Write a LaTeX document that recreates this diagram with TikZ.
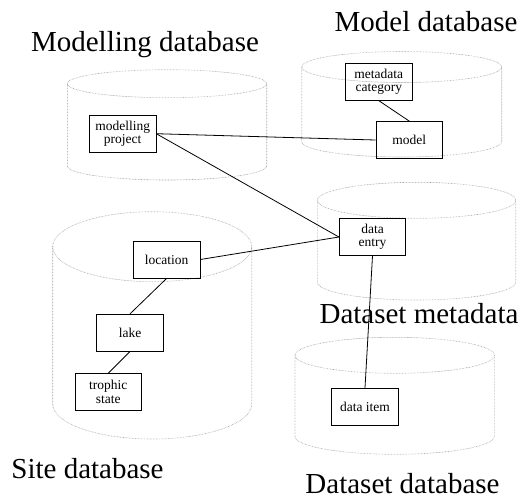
\documentclass[tikz,border=0pt]{standalone}
\usepackage{fontspec}
\setmainfont{Liberation Serif}
\tikzset{
  cyl/.style={gray!75, line width=0.6pt, dash pattern=on 0.6pt off 0.9pt},
  ent/.style={draw, line width=0.7pt, minimum width=66.5pt, minimum height=37pt, inner sep=1pt, align=center, font=\fontsize{13.5}{13.5}\selectfont},
  lnk/.style={line width=0.8pt},
  dbtitle/.style={anchor=base, inner sep=0pt, font=\fontsize{29}{30}\selectfont}
}
\newcommand\dbcyl[5]{%
  \draw[cyl] (#1,#3) ellipse [x radius=#2, y radius=#5];
  \draw[cyl] (#1-#2,#3) -- (#1-#2,#4) arc[start angle=180, end angle=0, x radius=#2, y radius=#5] -- (#1+#2,#3);
}
\begin{document}
\begin{tikzpicture}[x=1pt,y=-1pt]
\useasboundingbox (0,0) rectangle (521,499);
% cylinders
\dbcyl{167}{99.7}{83.7}{166}{14}
\dbcyl{401.7}{100}{67}{141.5}{15.5}
\dbcyl{416.5}{99.2}{200.3}{282}{18}
\dbcyl{152.2}{99.5}{246.7}{404}{35}
\dbcyl{394.7}{99.7}{355.3}{436.3}{18}
% titles
\node[dbtitle] (tmodelling) at (145,51.7) {Modelling database};
\node[dbtitle] (tmodel) at (426,31.7) {Model database};
\node[dbtitle] (tmeta) at (419,323.3) {Dataset metadata};
\node[dbtitle] (tsite) at (87.5,478.3) {Site database};
\node[dbtitle] (tdataset) at (402.5,493) {Dataset database};
% entities
\node[ent] (pp) at (122.7,133.7) {modelling\\project};
\node[ent] (mc) at (378.8,81.8) {metadata\\category};
\node[ent] (model) at (409.3,140) {model};
\node[ent] (de) at (372.5,237) {data\\entry};
\node[ent] (loc) at (166.7,259.5) {location};
\node[ent] (lake) at (130,332.7) {lake};
\node[ent] (ts) at (108.3,392) {trophic\\state};
\node[ent] (di) at (365,406.7) {data item};
% links
\draw[lnk] (pp.east) -- (model.west);
\draw[lnk] (pp.east) -- (de.west);
\draw[lnk] (mc.south) -- (model.north);
\draw[lnk] (loc.east) -- (de.west);
\draw[lnk] (loc.south) -- (lake.north);
\draw[lnk] (lake.south) -- (ts.north);
\draw[lnk] (de.south) -- (di.north);
\end{tikzpicture}
\end{document}
